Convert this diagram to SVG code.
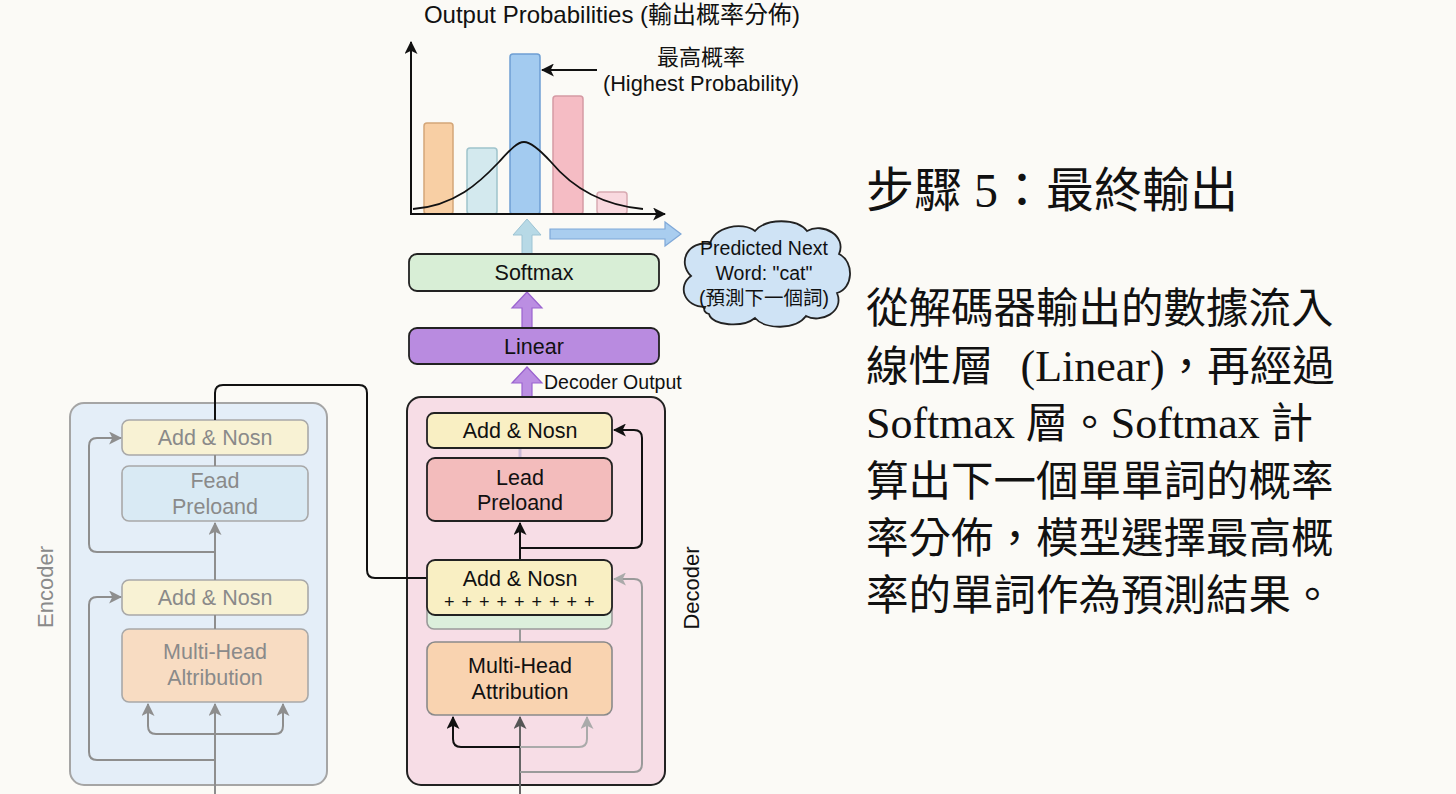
<svg xmlns="http://www.w3.org/2000/svg" width="1456" height="794" viewBox="0 0 1456 794">
<style>
.t{font-family:"Liberation Sans","Noto Sans CJK TC",sans-serif;}
.box{font-family:"Liberation Sans","Noto Sans CJK TC",sans-serif;font-size:21.5px;text-anchor:middle;fill:#111;}
.ebox{font-family:"Liberation Sans","Noto Sans CJK TC",sans-serif;font-size:21.5px;text-anchor:middle;fill:#8a8a8a;}
.para{font-family:"Liberation Serif","Noto Sans CJK TC",serif;font-size:42.5px;fill:#111;}
.head{font-size:48px;}
.lat{font-size:44px;}
.blk{fill:none;stroke:#111;stroke-width:2;}
.gry{fill:none;stroke:#8e8e8e;stroke-width:2;}
</style>
<defs>
<marker id="ah" viewBox="0 0 12 12" refX="11" refY="6" markerWidth="13" markerHeight="13" orient="auto" markerUnits="userSpaceOnUse"><path d="M0,0 L12,6 L0,12 L3,6 Z" fill="#111"/></marker>
<marker id="ahg" viewBox="0 0 12 12" refX="11" refY="6" markerWidth="13" markerHeight="13" orient="auto" markerUnits="userSpaceOnUse"><path d="M0,0 L12,6 L0,12 L3,6 Z" fill="#8e8e8e"/></marker>
<marker id="ahd" viewBox="0 0 12 12" refX="11" refY="6" markerWidth="13" markerHeight="13" orient="auto" markerUnits="userSpaceOnUse"><path d="M0,0 L12,6 L0,12 L3,6 Z" fill="#555"/></marker>
<marker id="ahl" viewBox="0 0 12 12" refX="11" refY="6" markerWidth="13" markerHeight="13" orient="auto" markerUnits="userSpaceOnUse"><path d="M0,0 L12,6 L0,12 L3,6 Z" fill="#aaa"/></marker>
</defs>
<rect x="0" y="0" width="1456" height="794" fill="#fbfaf6"/>

<!-- chart -->
<g id="chart">
<text class="t" x="612" y="23" font-size="24" text-anchor="middle" fill="#111">Output Probabilities (輸出概率分佈)</text>
<rect x="424" y="123" width="29" height="91" rx="3" fill="#f8cfa4" stroke="#d4a678" stroke-width="1.5"/>
<rect x="467" y="148" width="30" height="66" rx="3" fill="#d3e9ee" stroke="#9fc3cc" stroke-width="1.5"/>
<rect x="510" y="54" width="30" height="160" rx="3" fill="#a3cbf0" stroke="#6f9fd3" stroke-width="1.5"/>
<rect x="553" y="96" width="30" height="118" rx="3" fill="#f5bcc4" stroke="#d59aa4" stroke-width="1.5"/>
<rect x="597" y="192" width="30" height="22" rx="3" fill="#f9d9df" stroke="#d8aab2" stroke-width="1.5"/>
<path d="M413 209 C455 206,480 182,498 163 C510 150,517 142,524 142 C531 142,540 150,551 162 C571 186,600 205,643 209" fill="none" stroke="#111" stroke-width="1.8"/>
<path class="blk" d="M411 215 V42" marker-end="url(#ah)"/>
<path class="blk" d="M410 214 H665" marker-end="url(#ah)"/>
<path class="blk" d="M597 70 H542" marker-end="url(#ah)"/>
<text class="t" x="701" y="65" font-size="22" text-anchor="middle" fill="#111">最高概率</text>
<text class="t" x="701" y="91" font-size="21.8" text-anchor="middle" fill="#111">(Highest Probability)</text>
</g>

<!-- block arrows -->
<g id="connectors-block">
<path d="M522 256 V235 H513 L527 219 L541 235 H532 V256 Z" fill="#b7d9e6" stroke="#9cc3d3" stroke-width="1"/>
<path d="M550 229 H665 V222 L681 234 L665 246 V239 H550 Z" fill="#a9cdef" stroke="#7fa8d8" stroke-width="1.2"/>
<path d="M522 328 V308 H512 L527 292 L542 308 H532 V328 Z" fill="#bb8ee2" stroke="#9a63cf" stroke-width="1.2"/>
<path d="M522 413 V383 H512 L527 367 L542 383 H532 V413 Z" fill="#bb8ee2" stroke="#9a63cf" stroke-width="1.2"/>
<text class="t" x="544" y="389" font-size="19.5" fill="#111">Decoder Output</text>
</g>

<g id="cloud">
<path d="M705 307 C684 307,677 286,691 276 C677 262,688 240,710 244 C714 227,742 221,755 231 C766 218,797 218,807 231 C823 222,847 236,839 254 C855 262,853 289,837 293 C845 312,820 324,806 316 C796 330,765 330,755 318 C743 328,712 326,709 314 C705 313,703 310,705 307 Z" fill="#cfe3f5" stroke="#222" stroke-width="1.8"/>
<text class="t" x="764" y="255" font-size="19.5" text-anchor="middle" fill="#111">Predicted Next</text>
<text class="t" x="764" y="280" font-size="19.5" text-anchor="middle" fill="#111">Word: "cat"</text>
<text class="t" x="764" y="305" font-size="19.5" text-anchor="middle" fill="#111">(預測下一個詞)</text>
</g>

<g id="softmax">
<rect x="409" y="254" width="250" height="37" rx="8" fill="#d8eed6" stroke="#222" stroke-width="1.8"/>
<text class="box" x="534" y="280">Softmax</text>
</g>
<g id="linear">
<rect x="409" y="328" width="250" height="36" rx="8" fill="#b98be0" stroke="#222" stroke-width="1.8"/>
<text class="box" x="534" y="354">Linear</text>
</g>

<!-- encoder -->
<g id="encoder">
<rect x="70" y="403" width="257" height="382" rx="14" fill="#e4eef8" stroke="#a5a5a5" stroke-width="2"/>
<text class="t" transform="translate(53,587) rotate(-90)" font-size="22" text-anchor="middle" fill="#8a8a8a">Encoder</text>
</g>
<g id="enc-add1">
<rect x="122" y="420" width="186" height="35" rx="7" fill="#f8f2d4" stroke="#a8a8a8" stroke-width="1.6"/>
<text class="ebox" x="215" y="445">Add &amp; Nosn</text>
</g>
<g id="enc-fead">
<rect x="122" y="466" width="186" height="55" rx="7" fill="#d9eaf4" stroke="#a8a8a8" stroke-width="1.6"/>
<text class="ebox" x="215" y="488">Fead</text>
<text class="ebox" x="215" y="514">Preloand</text>
</g>
<g id="enc-add2">
<rect x="122" y="580" width="186" height="35" rx="7" fill="#f8f2d4" stroke="#a8a8a8" stroke-width="1.6"/>
<text class="ebox" x="215" y="605">Add &amp; Nosn</text>
</g>
<g id="enc-mha">
<rect x="122" y="629" width="186" height="73" rx="7" fill="#f8dcc2" stroke="#a8a8a8" stroke-width="1.6"/>
<text class="ebox" x="215" y="659">Multi-Head</text>
<text class="ebox" x="215" y="685">Altribution</text>
</g>

<!-- decoder -->
<g id="decoder">
<rect x="407" y="397" width="258" height="388" rx="14" fill="#f7dde6" stroke="#222" stroke-width="2"/>
<text class="t" transform="translate(699,588) rotate(-90)" font-size="22" text-anchor="middle" fill="#111">Decoder</text>
</g>

<g id="connectors">
<!-- encoder -->
<path class="gry" d="M215 794 V704" marker-end="url(#ahg)"/>
<path class="gry" d="M215 734 H156 Q148 734 148 726 V704" marker-end="url(#ahg)"/>
<path class="gry" d="M215 734 H275 Q283 734 283 726 V704" marker-end="url(#ahg)"/>
<path class="gry" d="M215 760 H97 Q89 760 89 752 V605 Q89 597 97 597 H121" marker-end="url(#ahg)"/>
<path class="gry" d="M215 629 V615"/>
<path class="gry" d="M215 580 V523" marker-end="url(#ahg)"/>
<path class="gry" d="M215 552 H97 Q89 552 89 544 V446 Q89 438 97 438 H121" marker-end="url(#ahg)"/>
<path class="gry" d="M215 466 V455"/>
<path class="blk" d="M215 420 V393 Q215 385 223 385 H359 Q367 385 367 393 V570 Q367 578 375 578 H427"/>
<!-- decoder -->
<path d="M520 794 V717" fill="none" stroke="#666" stroke-width="2" marker-end="url(#ahd)"/>
<path class="blk" d="M520 747 H461 Q453 747 453 739 V717" marker-end="url(#ah)"/>
<path d="M520 747 H579 Q587 747 587 739 V717" fill="none" stroke="#aaa" stroke-width="2" marker-end="url(#ahl)"/>
<path d="M520 772 H634 Q642 772 642 764 V587 Q642 579 634 579 H614" fill="none" stroke="#9a9a9a" stroke-width="2" marker-end="url(#ahl)"/>
<path d="M520 642 V628" fill="none" stroke="#999" stroke-width="2"/>
<path class="blk" d="M520 560 V523" marker-end="url(#ah)"/>
<path class="blk" d="M520 548 H634 Q642 548 642 540 V438 Q642 430 634 430 H614" marker-end="url(#ah)"/>
<path d="M520 448 V458" fill="none" stroke="#cbbad9" stroke-width="3"/>
</g>

<g id="dec-add1">
<rect x="427" y="413" width="185" height="35" rx="7" fill="#f9efc3" stroke="#222" stroke-width="1.8"/>
<text class="box" x="520" y="438">Add &amp; Nosn</text>
</g>
<g id="dec-lead">
<rect x="427" y="458" width="185" height="63" rx="8" fill="#f3bcbc" stroke="#222" stroke-width="1.8"/>
<text class="box" x="520" y="485">Lead</text>
<text class="box" x="520" y="510">Preloand</text>
</g>
<g id="dec-green">
<rect x="427" y="572" width="185" height="57" rx="7" fill="#dcefdc" stroke="#9a9a9a" stroke-width="1.6"/>
</g>
<g id="dec-add2">
<rect x="427" y="560" width="185" height="55" rx="8" fill="#f9efc3" stroke="#222" stroke-width="1.8"/>
<text class="box" x="520" y="586">Add &amp; Nosn</text>
<text class="t" x="444" y="608" font-size="18" fill="#111" letter-spacing="1">+ + + + + + + + +</text>
</g>
<g id="dec-mha">
<rect x="427" y="642" width="185" height="73" rx="8" fill="#f9d3b0" stroke="#8a8a8a" stroke-width="1.6"/>
<text class="box" x="520" y="673">Multi-Head</text>
<text class="box" x="520" y="699">Attribution</text>
</g>

<g id="explanation">
<text class="para head" x="866" y="207">步驟 5：最終輸出</text>
<text class="para" x="866" y="323">從解碼器輸出的數據流入</text>
<text class="para" x="866" y="381">線性層<tspan dx="16" class="lat"> (Linear)</tspan>，再經過</text>
<text class="para" x="866" y="438"><tspan class="lat">Softmax</tspan> 層。<tspan class="lat">Softmax</tspan> 計</text>
<text class="para" x="866" y="496">算出下一個單單詞的概率</text>
<text class="para" x="866" y="553">率分佈，模型選擇最高概</text>
<text class="para" x="866" y="610">率的單詞作為預測結果。</text>
</g>
</svg>
